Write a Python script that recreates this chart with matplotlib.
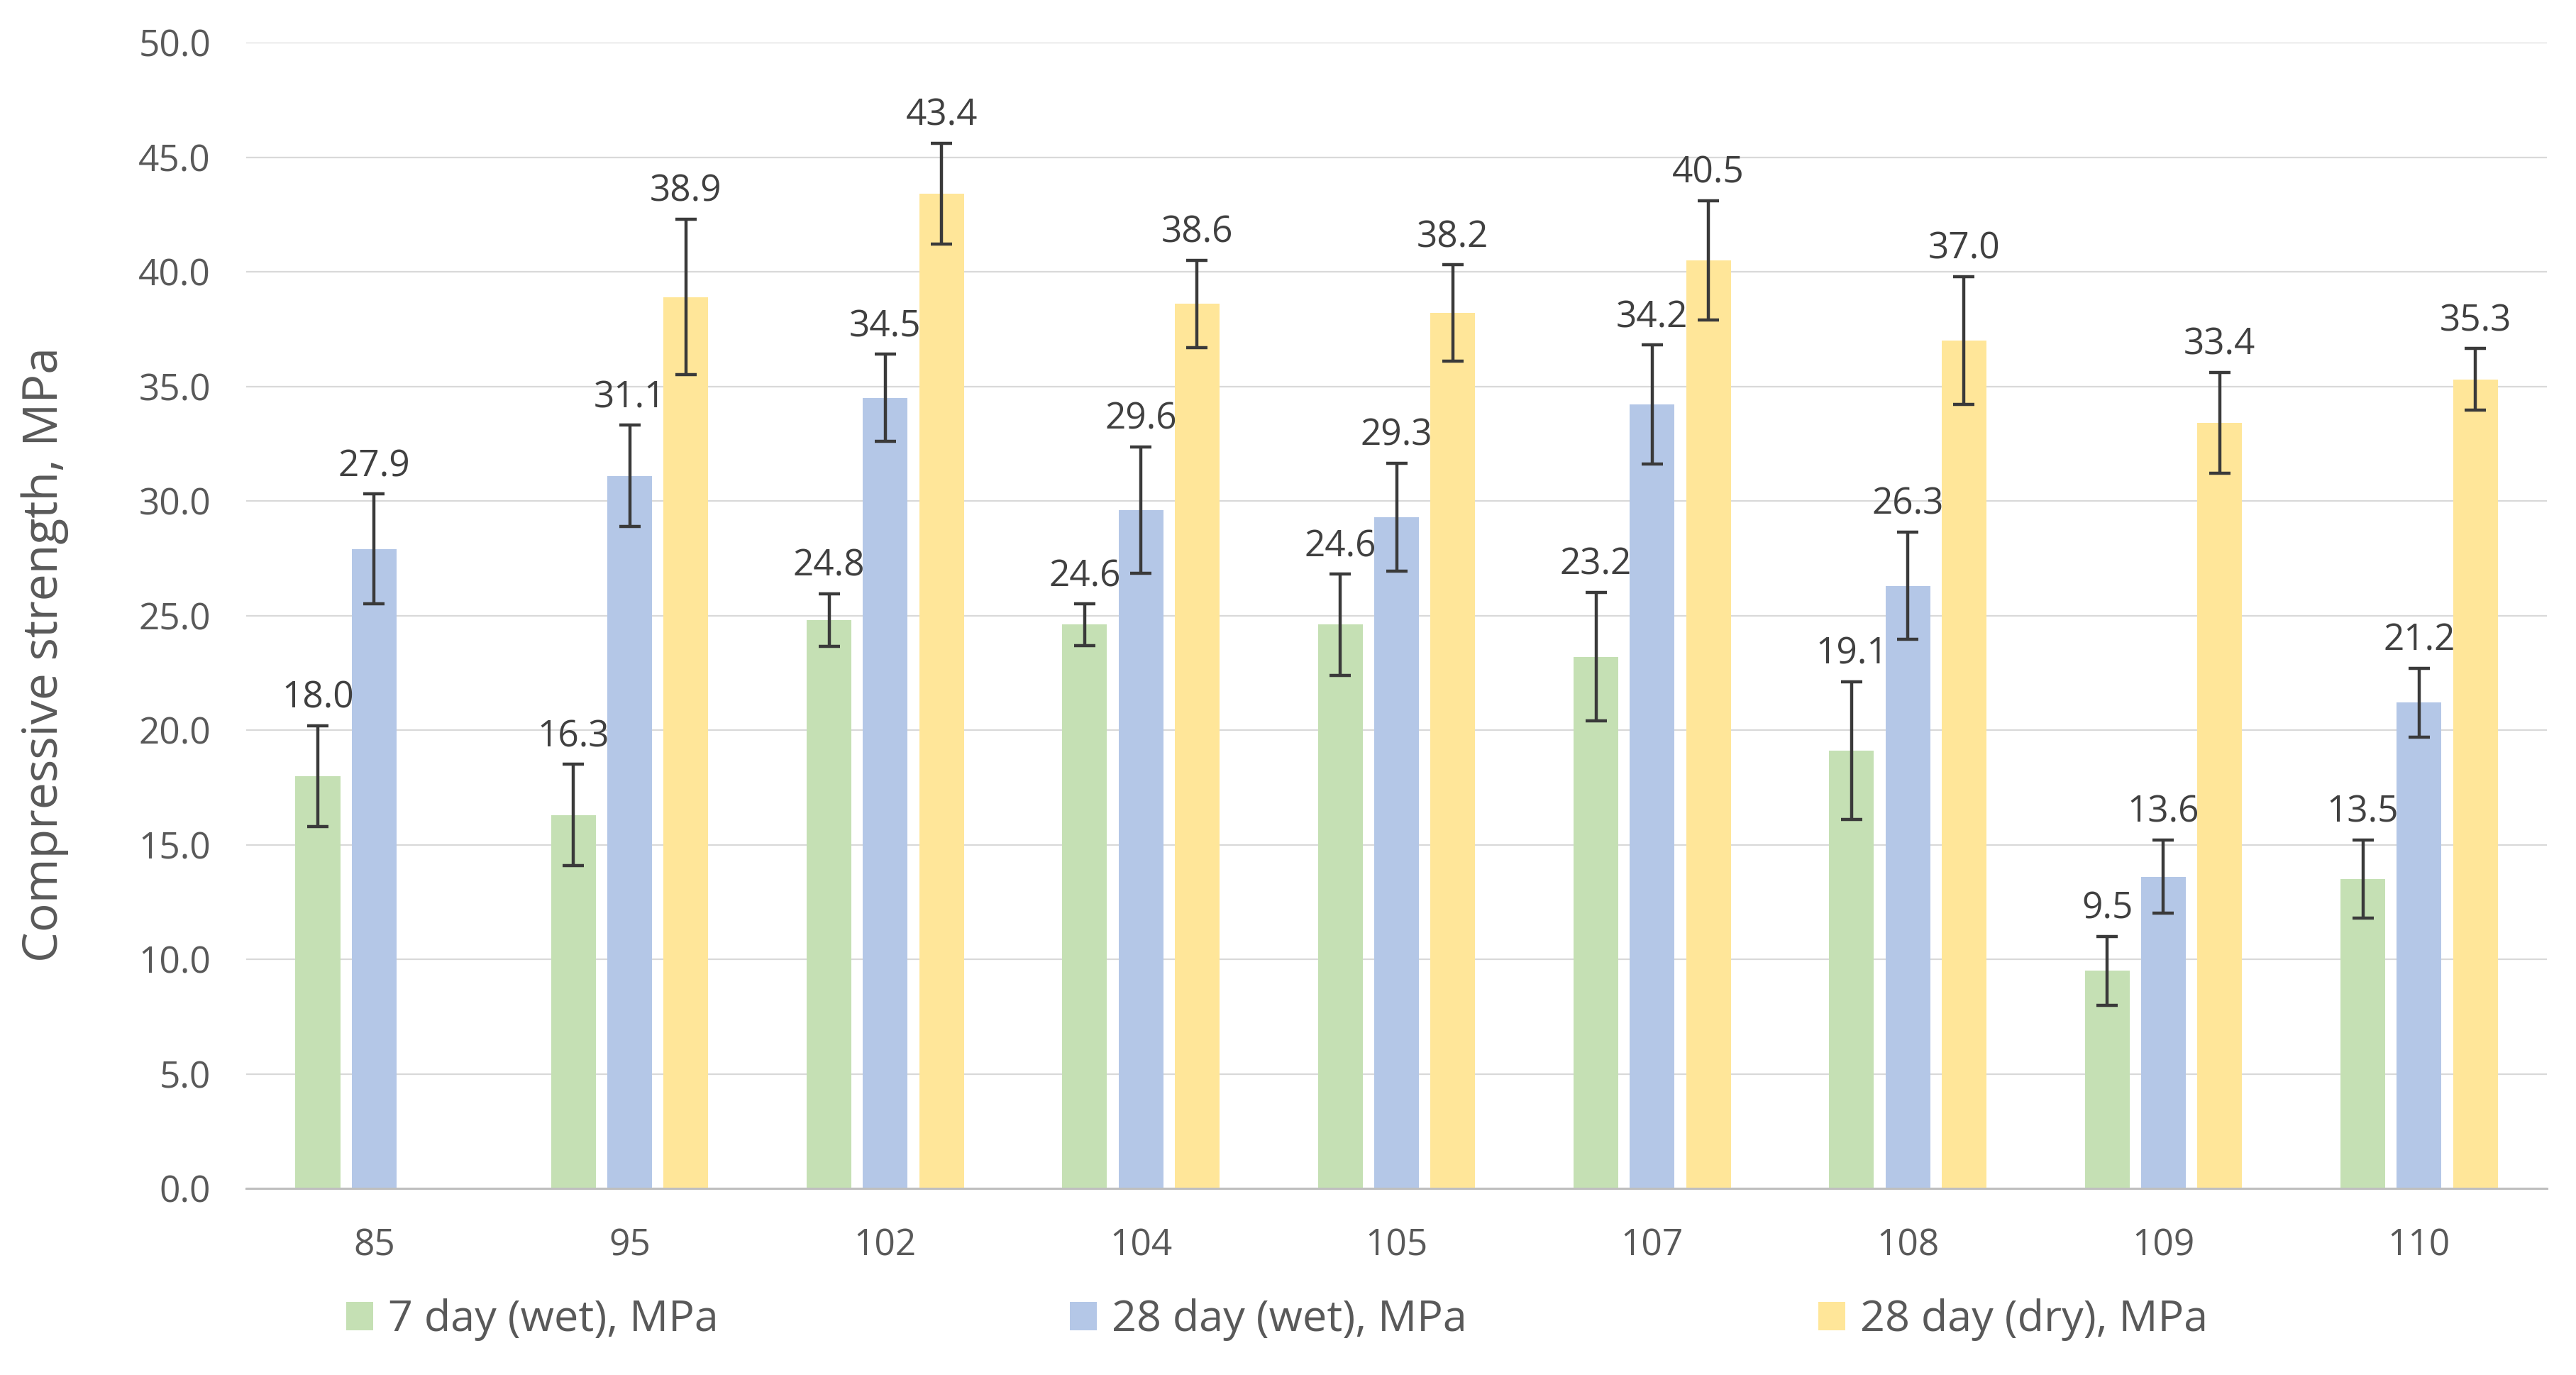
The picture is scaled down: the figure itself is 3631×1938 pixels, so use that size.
import matplotlib.pyplot as plt
import numpy as np

plt.rcParams['font.family'] = ['Open Sans', 'DejaVu Sans']

# chart values
mixes = ['85', '95', '102', '104', '105', '107', '108', '109', '110']
wet7 = [18.0, 16.3, 24.8, 24.6, 24.6, 23.2, 19.1, 9.5, 13.5]
wet28 = [27.9, 31.1, 34.5, 29.6, 29.3, 34.2, 26.3, 13.6, 21.2]
dry28 = [np.nan, 38.9, 43.4, 38.6, 38.2, 40.5, 37.0, 33.4, 35.3]
wet7_err = [2.2, 2.2, 1.15, 0.9, 2.2, 2.8, 3.0, 1.5, 1.7]
wet28_err = [2.4, 2.2, 1.9, 2.75, 2.35, 2.6, 2.35, 1.6, 1.5]
dry28_err = [np.nan, 3.4, 2.2, 1.9, 2.1, 2.6, 2.8, 2.2, 1.35]
series_names = ['7 day (wet), MPa', '28 day (wet), MPa', '28 day (dry), MPa']

colors = ['#C5E0B4', '#B4C7E7', '#FFE699']

fig = plt.figure(figsize=(36.31, 19.38), dpi=100)
ax = fig.add_axes([0.0956, 0.1357, 0.8931, 0.8333])

x = np.arange(len(mixes))
w = 0.175
offs = [-0.22, 0.0, 0.22]
all_vals = [wet7, wet28, dry28]
all_errs = [wet7_err, wet28_err, dry28_err]

for i in range(3):
    vals = np.array(all_vals[i])
    errs = np.array(all_errs[i])
    xs = x + offs[i]
    ax.bar(xs, vals, width=w, color=colors[i], label=series_names[i], zorder=2)
    ax.errorbar(xs, vals, yerr=errs, fmt='none', ecolor='#3a3a3a',
                elinewidth=3.2, capsize=11, capthick=3.2, zorder=3)
    for xi, v, e in zip(xs, vals, errs):
        if np.isnan(v):
            continue
        ax.text(xi, v + e + 1.2, '%.1f' % v, ha='center', va='center',
                fontsize=37, color='#404040', zorder=4)

ax.set_xlim(-0.5, 8.5)
ax.set_ylim(0, 50)
ax.set_yticks(np.arange(0, 50.1, 5))
ax.set_yticklabels(['%.1f' % t for t in np.arange(0, 50.1, 5)])
ax.set_xticks(x)
ax.set_xticklabels(mixes)
ax.yaxis.grid(True, color='#D9D9D9', linewidth=1.6, zorder=0)
ax.set_axisbelow(True)
for s in ['top', 'right', 'left']:
    ax.spines[s].set_visible(False)
ax.spines['bottom'].set_color('#BFBFBF')
ax.spines['bottom'].set_linewidth(2.2)
ax.tick_params(axis='both', length=0, labelsize=37, labelcolor='#595959')
ax.tick_params(axis='x', pad=40)
ax.tick_params(axis='y', pad=36)
ax.set_ylabel('Compressive strength, MPa', fontsize=49, color='#595959')
ax.yaxis.set_label_coords(-0.077, 0.466)

fig.legend(loc='center', bbox_to_anchor=(0.4958, 0.040), ncol=3, frameon=False,
           fontsize=44, labelcolor='#595959', handlelength=0.62, handleheight=0.62,
           handletextpad=0.35, columnspacing=8.1)

fig.savefig('out.png', dpi=100)
